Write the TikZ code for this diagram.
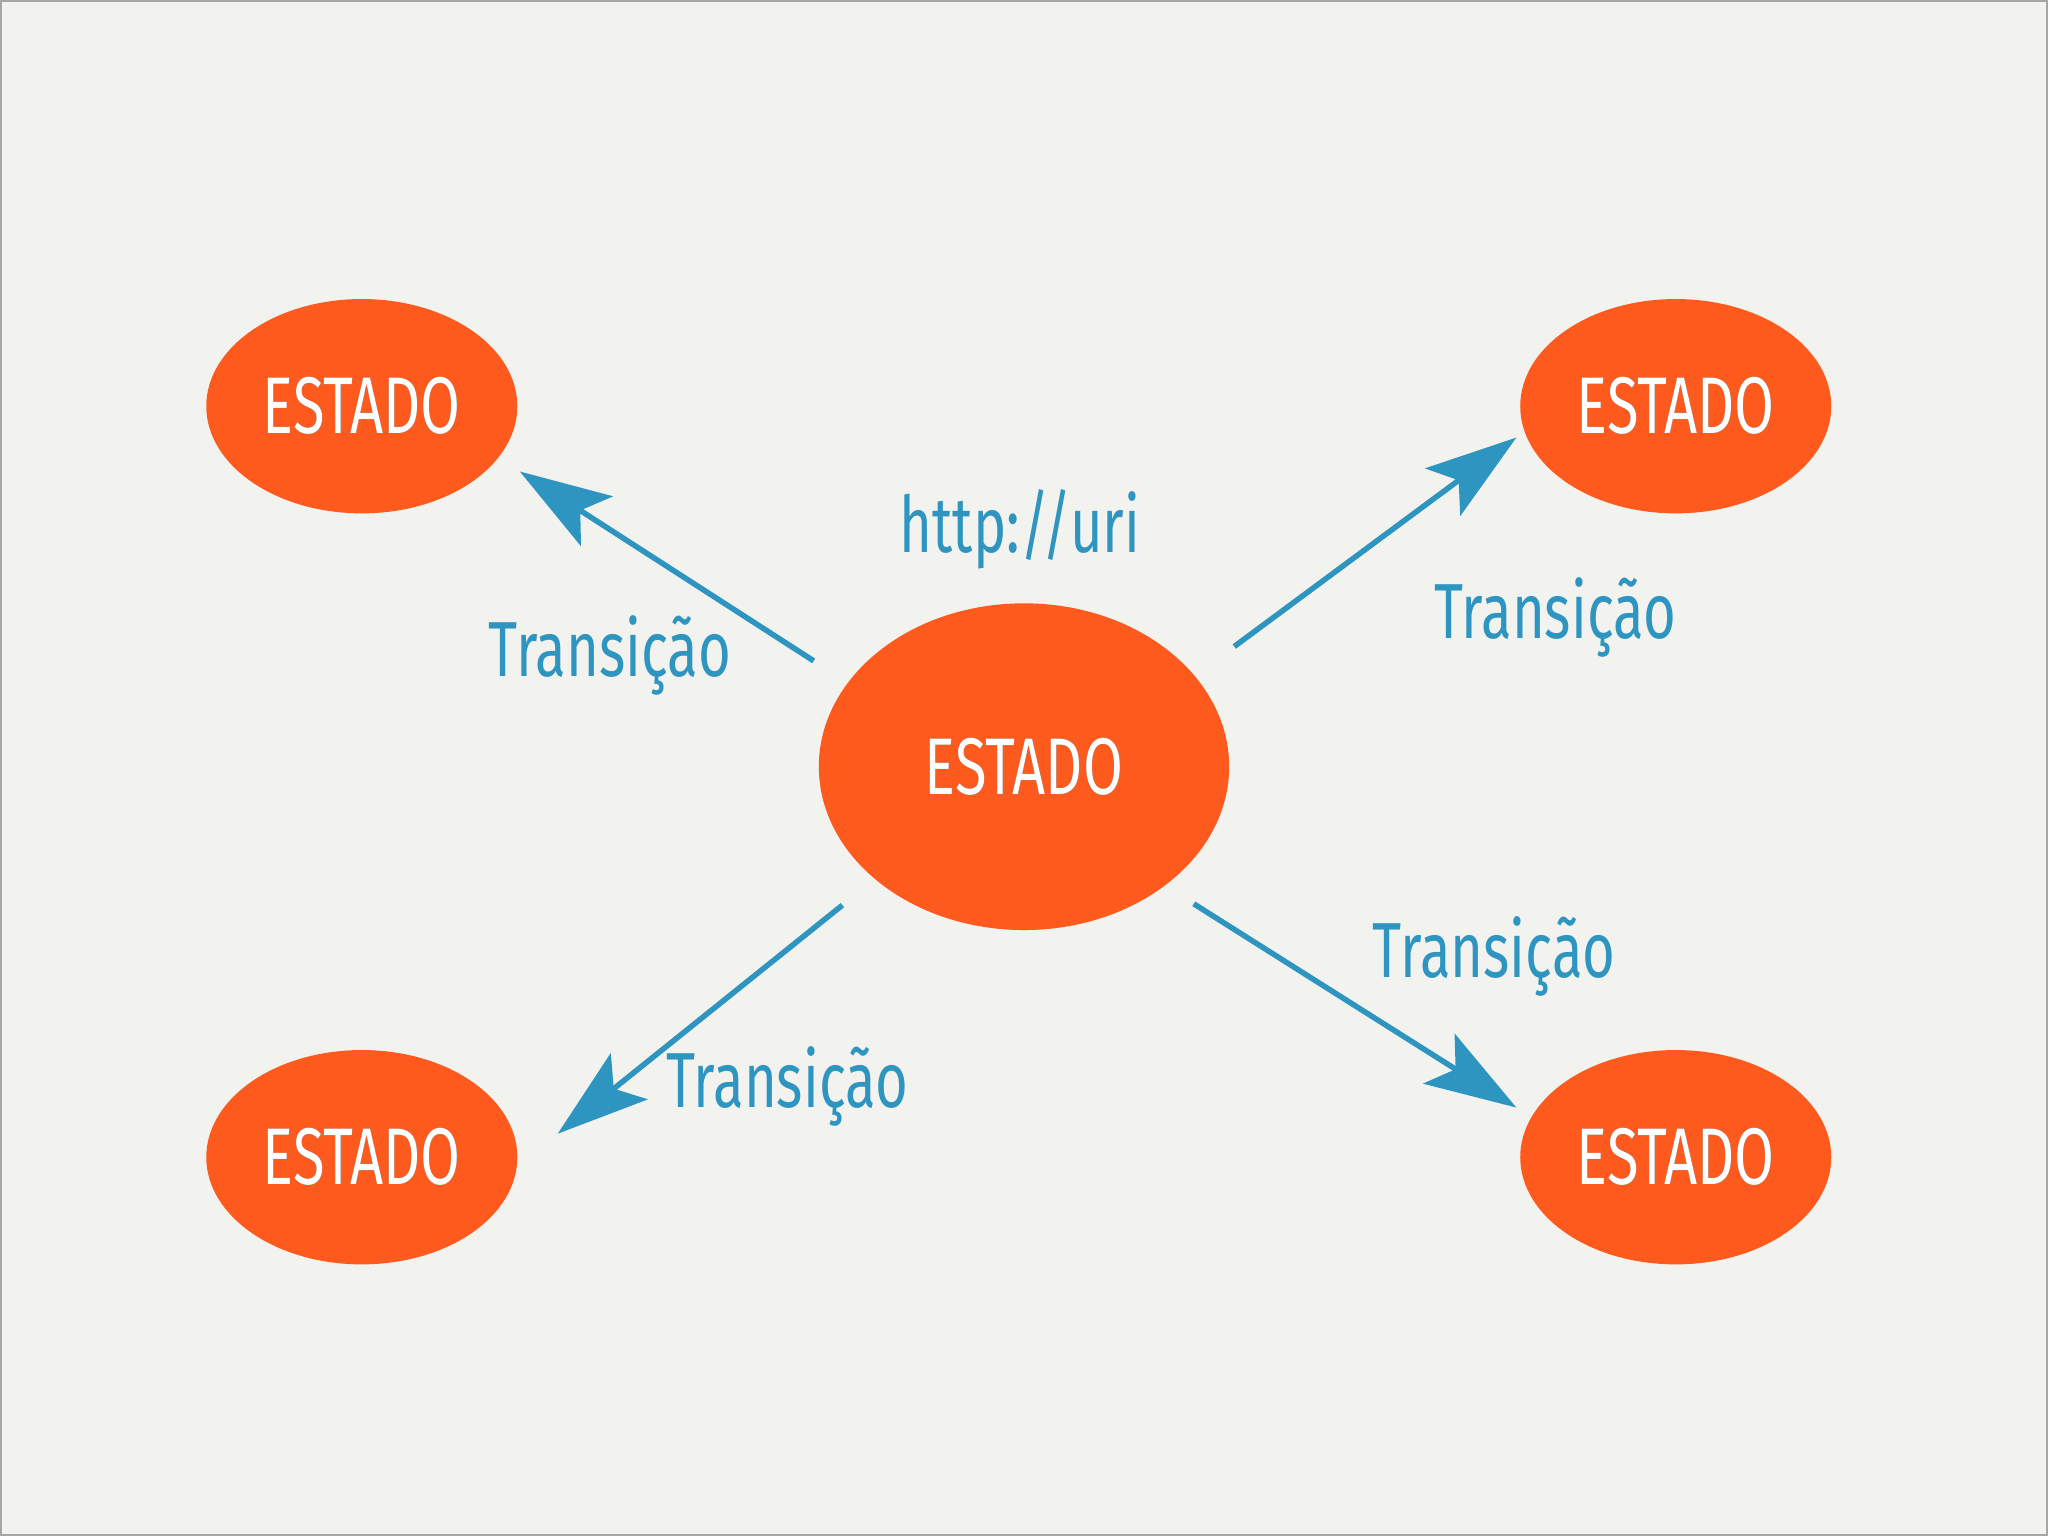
\documentclass[tikz,border=0pt]{standalone}
\usepackage{fontspec}
\setmainfont{Fira Sans}[FakeStretch=0.72]
\usetikzlibrary{shapes.geometric,arrows.meta}
\definecolor{bg}{HTML}{F2F2EE}
\definecolor{org}{HTML}{FF5A1E}
\definecolor{blu}{HTML}{2E95C0}
\tikzset{
 st/.style={ellipse,fill=org,inner sep=0pt},
 lbl/.style={text=blu,font=\fontsize{17}{20}\selectfont},
 arr/.style={blu,line width=1.2pt,-{Stealth[length=7mm,width=4.5mm,inset=1.5mm]}},
}
\newcommand{\est}{\fontsize{17.5}{20}\selectfont ESTADO}
\begin{document}
\begin{tikzpicture}[x=0.01cm,y=-0.01cm]
\useasboundingbox (0,0) rectangle (1568,1176);
\fill[bg,draw=gray!70,line width=0.8pt] (0.5,0.5) rectangle (1567.5,1175.5);
\node[st,minimum width=314\pgflinewidth*0+3.14cm,minimum height=2.5cm] (c) at (784,587) {};
\foreach \n/\x/\y in {tl/277/311,tr/1283/311,bl/277/886,br/1283/886}
  \node[st,minimum width=2.38cm,minimum height=1.64cm] (\n) at (\x,\y) {};
\foreach \n in {c,tl,tr,bl,br}{
  \node[text=black!70] (\n s) at ([shift={(0.04,0.04)}]\n) {\est};
  \node[text=white] (\n t) at (\n) {\est};
}
\coordinate (a1) at (623,506); \coordinate (b1) at (398,361);
\coordinate (a2) at (945,495); \coordinate (b2) at (1161,335);
\coordinate (a3) at (645,693); \coordinate (b3) at (427,868);
\coordinate (a4) at (914,692); \coordinate (b4) at (1161,848);
\draw[arr] (a1) -- (b1);
\draw[arr] (a2) -- (b2);
\draw[arr] (a3) -- (b3);
\draw[arr] (a4) -- (b4);
\node[lbl] (u) at (781,405) {http://uri};
\node[lbl] (l1) at (467,502) {Transição};
\node[lbl] (l2) at (1191,473) {Transição};
\node[lbl] (l3) at (603,832) {Transição};
\node[lbl] (l4) at (1144,732) {Transição};
\end{tikzpicture}
\end{document}
